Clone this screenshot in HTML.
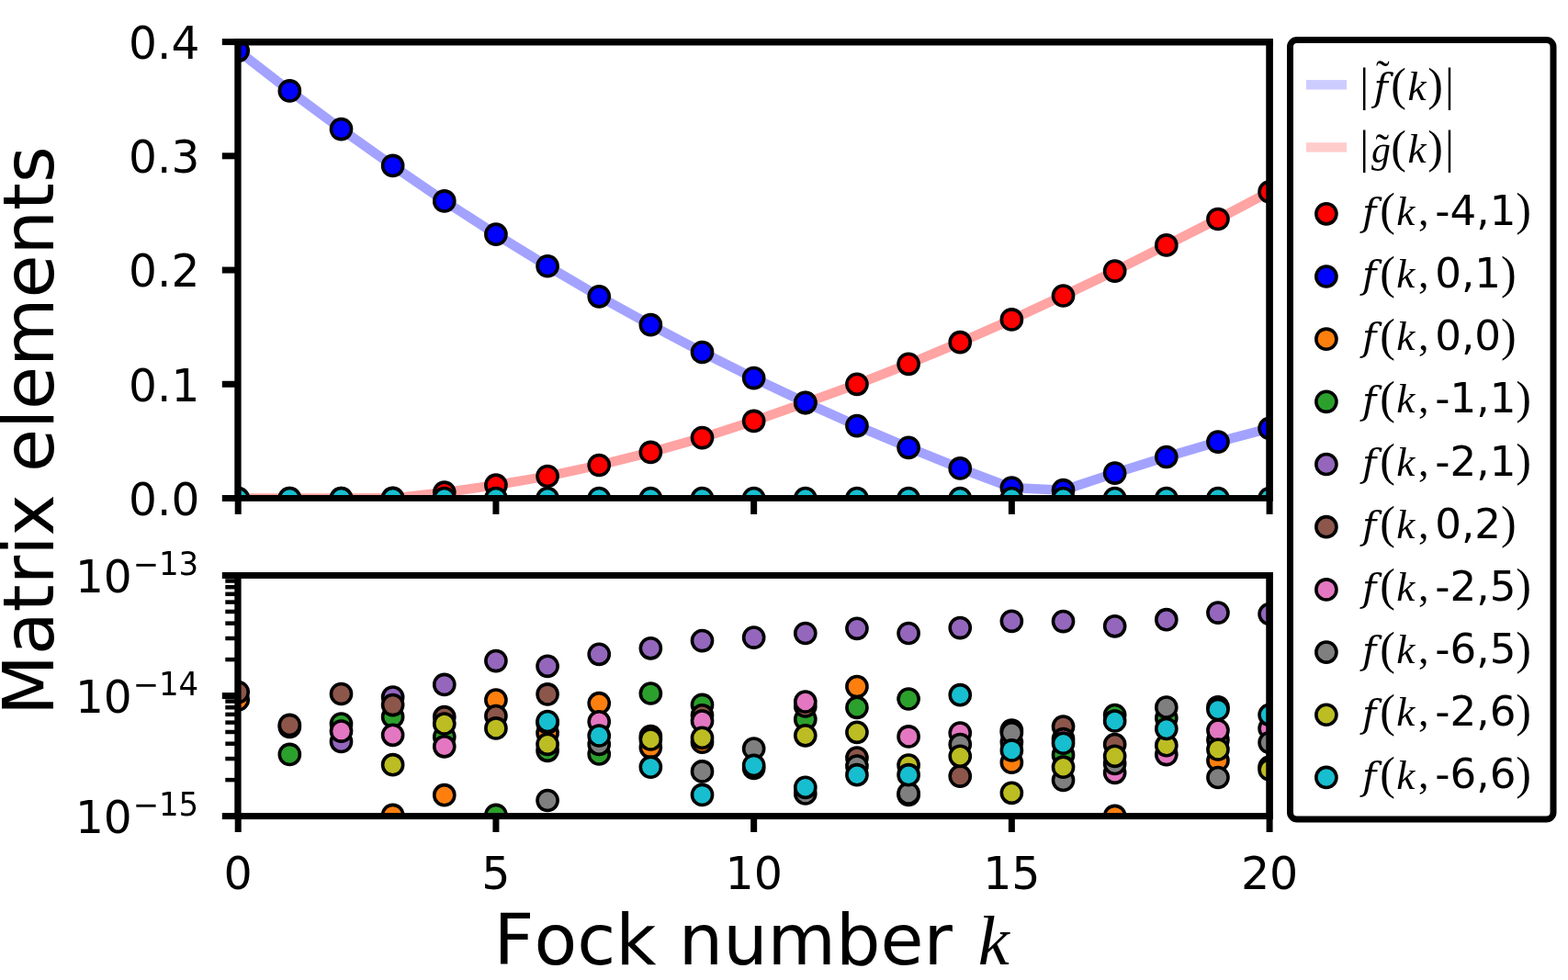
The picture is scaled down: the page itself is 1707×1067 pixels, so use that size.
<!DOCTYPE html>
<html lang="en"><head><meta charset="utf-8"><title>Matrix elements vs Fock number k</title>
<style>html,body{margin:0;padding:0;background:#fff;overflow:hidden}svg{display:block}text{font-kerning:none;font-variant-ligatures:none}.mk circle{stroke:#000;stroke-width:3.6}</style></head><body>
<svg width="1707" height="1067" viewBox="0 0 1707 1067" font-family="'DejaVu Sans', 'Liberation Sans', sans-serif" fill="#000">
<rect width="1707" height="1067" fill="#fff"/>
<defs>
<clipPath id="ct"><rect x="259.2" y="45.6" width="1122.9" height="496.9"/></clipPath>
<clipPath id="cb"><rect x="259.2" y="626.5" width="1122.9" height="262.1"/></clipPath>
</defs>
<g clip-path="url(#ct)">
<polyline points="259.2,55.3 315.34,98.9 371.49,140.6 427.63,180.4 483.78,218.9 539.92,255.2 596.07,289.75 652.21,322.8 708.36,353.7 764.5,383.5 820.65,411.6 876.79,438.3 932.94,463.6 989.09,487.3 1045.23,509.9 1101.37,531 1157.52,533.7 1213.66,515.1 1269.81,497.5 1325.95,481.1 1382.1,466.4" fill="none" stroke="#a3a3ff" stroke-width="10.4" stroke-linejoin="round" stroke-linecap="butt"/>
<polyline points="259.2,542.5 315.34,542.5 371.49,542.5 427.63,542.3 483.78,536.2 539.92,528.2 596.07,518.5 652.21,506.5 708.36,492.4 764.5,476.6 820.65,458.4 876.79,438.7 932.94,418.3 989.09,396.3 1045.23,372.7 1101.37,347.9 1157.52,322 1213.66,295.1 1269.81,266.9 1325.95,238.5 1382.1,208.9" fill="none" stroke="#ffa3a3" stroke-width="10.4" stroke-linejoin="round" stroke-linecap="butt"/>
<g class="mk">
<circle cx="259.2" cy="542.5" r="11.05" fill="#ff0000"/>
<circle cx="315.34" cy="542.5" r="11.05" fill="#ff0000"/>
<circle cx="371.49" cy="542.5" r="11.05" fill="#ff0000"/>
<circle cx="427.63" cy="542.3" r="11.05" fill="#ff0000"/>
<circle cx="483.78" cy="536.2" r="11.05" fill="#ff0000"/>
<circle cx="539.92" cy="528.2" r="11.05" fill="#ff0000"/>
<circle cx="596.07" cy="518.5" r="11.05" fill="#ff0000"/>
<circle cx="652.21" cy="506.5" r="11.05" fill="#ff0000"/>
<circle cx="708.36" cy="492.4" r="11.05" fill="#ff0000"/>
<circle cx="764.5" cy="476.6" r="11.05" fill="#ff0000"/>
<circle cx="820.65" cy="458.4" r="11.05" fill="#ff0000"/>
<circle cx="876.79" cy="438.7" r="11.05" fill="#ff0000"/>
<circle cx="932.94" cy="418.3" r="11.05" fill="#ff0000"/>
<circle cx="989.09" cy="396.3" r="11.05" fill="#ff0000"/>
<circle cx="1045.23" cy="372.7" r="11.05" fill="#ff0000"/>
<circle cx="1101.37" cy="347.9" r="11.05" fill="#ff0000"/>
<circle cx="1157.52" cy="322" r="11.05" fill="#ff0000"/>
<circle cx="1213.66" cy="295.1" r="11.05" fill="#ff0000"/>
<circle cx="1269.81" cy="266.9" r="11.05" fill="#ff0000"/>
<circle cx="1325.95" cy="238.5" r="11.05" fill="#ff0000"/>
<circle cx="1382.1" cy="208.9" r="11.05" fill="#ff0000"/>
<circle cx="259.2" cy="55.3" r="11.05" fill="#0000ff"/>
<circle cx="315.34" cy="98.9" r="11.05" fill="#0000ff"/>
<circle cx="371.49" cy="140.6" r="11.05" fill="#0000ff"/>
<circle cx="427.63" cy="180.4" r="11.05" fill="#0000ff"/>
<circle cx="483.78" cy="218.9" r="11.05" fill="#0000ff"/>
<circle cx="539.92" cy="255.2" r="11.05" fill="#0000ff"/>
<circle cx="596.07" cy="289.75" r="11.05" fill="#0000ff"/>
<circle cx="652.21" cy="322.8" r="11.05" fill="#0000ff"/>
<circle cx="708.36" cy="353.7" r="11.05" fill="#0000ff"/>
<circle cx="764.5" cy="383.5" r="11.05" fill="#0000ff"/>
<circle cx="820.65" cy="411.6" r="11.05" fill="#0000ff"/>
<circle cx="876.79" cy="438.3" r="11.05" fill="#0000ff"/>
<circle cx="932.94" cy="463.6" r="11.05" fill="#0000ff"/>
<circle cx="989.09" cy="487.3" r="11.05" fill="#0000ff"/>
<circle cx="1045.23" cy="509.9" r="11.05" fill="#0000ff"/>
<circle cx="1101.37" cy="531" r="11.05" fill="#0000ff"/>
<circle cx="1157.52" cy="533.7" r="11.05" fill="#0000ff"/>
<circle cx="1213.66" cy="515.1" r="11.05" fill="#0000ff"/>
<circle cx="1269.81" cy="497.5" r="11.05" fill="#0000ff"/>
<circle cx="1325.95" cy="481.1" r="11.05" fill="#0000ff"/>
<circle cx="1382.1" cy="466.4" r="11.05" fill="#0000ff"/>
<circle cx="259.2" cy="542.5" r="11.05" fill="#17becf"/>
<circle cx="315.34" cy="542.5" r="11.05" fill="#17becf"/>
<circle cx="371.49" cy="542.5" r="11.05" fill="#17becf"/>
<circle cx="427.63" cy="542.5" r="11.05" fill="#17becf"/>
<circle cx="483.78" cy="542.5" r="11.05" fill="#17becf"/>
<circle cx="539.92" cy="542.5" r="11.05" fill="#17becf"/>
<circle cx="596.07" cy="542.5" r="11.05" fill="#17becf"/>
<circle cx="652.21" cy="542.5" r="11.05" fill="#17becf"/>
<circle cx="708.36" cy="542.5" r="11.05" fill="#17becf"/>
<circle cx="764.5" cy="542.5" r="11.05" fill="#17becf"/>
<circle cx="820.65" cy="542.5" r="11.05" fill="#17becf"/>
<circle cx="876.79" cy="542.5" r="11.05" fill="#17becf"/>
<circle cx="932.94" cy="542.5" r="11.05" fill="#17becf"/>
<circle cx="989.09" cy="542.5" r="11.05" fill="#17becf"/>
<circle cx="1045.23" cy="542.5" r="11.05" fill="#17becf"/>
<circle cx="1101.37" cy="542.5" r="11.05" fill="#17becf"/>
<circle cx="1157.52" cy="542.5" r="11.05" fill="#17becf"/>
<circle cx="1213.66" cy="542.5" r="11.05" fill="#17becf"/>
<circle cx="1269.81" cy="542.5" r="11.05" fill="#17becf"/>
<circle cx="1325.95" cy="542.5" r="11.05" fill="#17becf"/>
<circle cx="1382.1" cy="542.5" r="11.05" fill="#17becf"/>
</g></g>
<g clip-path="url(#cb)"><g class="mk">
<circle cx="259.2" cy="761.9" r="11.05" fill="#ff7f0e"/>
<circle cx="315.34" cy="791.5" r="11.05" fill="#ff7f0e"/>
<circle cx="427.63" cy="887.4" r="11.05" fill="#ff7f0e"/>
<circle cx="483.78" cy="865.7" r="11.05" fill="#ff7f0e"/>
<circle cx="539.92" cy="762" r="11.05" fill="#ff7f0e"/>
<circle cx="596.07" cy="798" r="11.05" fill="#ff7f0e"/>
<circle cx="652.21" cy="765.7" r="11.05" fill="#ff7f0e"/>
<circle cx="708.36" cy="813.8" r="11.05" fill="#ff7f0e"/>
<circle cx="764.5" cy="808.2" r="11.05" fill="#ff7f0e"/>
<circle cx="932.94" cy="747.6" r="11.05" fill="#ff7f0e"/>
<circle cx="1101.37" cy="830.2" r="11.05" fill="#ff7f0e"/>
<circle cx="1213.66" cy="888.4" r="11.05" fill="#ff7f0e"/>
<circle cx="1325.95" cy="828" r="11.05" fill="#ff7f0e"/>
<circle cx="315.34" cy="821.4" r="11.05" fill="#2ca02c"/>
<circle cx="371.49" cy="788.1" r="11.05" fill="#2ca02c"/>
<circle cx="427.63" cy="780.5" r="11.05" fill="#2ca02c"/>
<circle cx="483.78" cy="802.3" r="11.05" fill="#2ca02c"/>
<circle cx="539.92" cy="887.4" r="11.05" fill="#2ca02c"/>
<circle cx="596.07" cy="817.3" r="11.05" fill="#2ca02c"/>
<circle cx="652.21" cy="821" r="11.05" fill="#2ca02c"/>
<circle cx="708.36" cy="755" r="11.05" fill="#2ca02c"/>
<circle cx="764.5" cy="767.4" r="11.05" fill="#2ca02c"/>
<circle cx="876.79" cy="783.2" r="11.05" fill="#2ca02c"/>
<circle cx="932.94" cy="770.3" r="11.05" fill="#2ca02c"/>
<circle cx="989.09" cy="761" r="11.05" fill="#2ca02c"/>
<circle cx="1101.37" cy="795" r="11.05" fill="#2ca02c"/>
<circle cx="1157.52" cy="821.9" r="11.05" fill="#2ca02c"/>
<circle cx="1213.66" cy="778.5" r="11.05" fill="#2ca02c"/>
<circle cx="1269.81" cy="781.8" r="11.05" fill="#2ca02c"/>
<circle cx="1325.95" cy="769.8" r="11.05" fill="#2ca02c"/>
<circle cx="1382.1" cy="835" r="11.05" fill="#2ca02c"/>
<circle cx="371.49" cy="807.4" r="11.05" fill="#9467bd"/>
<circle cx="427.63" cy="759" r="11.05" fill="#9467bd"/>
<circle cx="483.78" cy="745.4" r="11.05" fill="#9467bd"/>
<circle cx="539.92" cy="719.6" r="11.05" fill="#9467bd"/>
<circle cx="596.07" cy="725.3" r="11.05" fill="#9467bd"/>
<circle cx="652.21" cy="712.3" r="11.05" fill="#9467bd"/>
<circle cx="708.36" cy="705.8" r="11.05" fill="#9467bd"/>
<circle cx="764.5" cy="697.6" r="11.05" fill="#9467bd"/>
<circle cx="820.65" cy="694.1" r="11.05" fill="#9467bd"/>
<circle cx="876.79" cy="689.5" r="11.05" fill="#9467bd"/>
<circle cx="932.94" cy="684.3" r="11.05" fill="#9467bd"/>
<circle cx="989.09" cy="689.5" r="11.05" fill="#9467bd"/>
<circle cx="1045.23" cy="683.6" r="11.05" fill="#9467bd"/>
<circle cx="1101.37" cy="676.3" r="11.05" fill="#9467bd"/>
<circle cx="1157.52" cy="676.6" r="11.05" fill="#9467bd"/>
<circle cx="1213.66" cy="681.8" r="11.05" fill="#9467bd"/>
<circle cx="1269.81" cy="674.7" r="11.05" fill="#9467bd"/>
<circle cx="1325.95" cy="667.1" r="11.05" fill="#9467bd"/>
<circle cx="1382.1" cy="668.5" r="11.05" fill="#9467bd"/>
<circle cx="259.2" cy="753.6" r="11.05" fill="#8c564b"/>
<circle cx="315.34" cy="789.4" r="11.05" fill="#8c564b"/>
<circle cx="371.49" cy="755.5" r="11.05" fill="#8c564b"/>
<circle cx="427.63" cy="767.6" r="11.05" fill="#8c564b"/>
<circle cx="483.78" cy="780.7" r="11.05" fill="#8c564b"/>
<circle cx="539.92" cy="779.6" r="11.05" fill="#8c564b"/>
<circle cx="596.07" cy="755.9" r="11.05" fill="#8c564b"/>
<circle cx="708.36" cy="801.6" r="11.05" fill="#8c564b"/>
<circle cx="764.5" cy="778.8" r="11.05" fill="#8c564b"/>
<circle cx="820.65" cy="836.5" r="11.05" fill="#8c564b"/>
<circle cx="876.79" cy="769" r="11.05" fill="#8c564b"/>
<circle cx="932.94" cy="825.1" r="11.05" fill="#8c564b"/>
<circle cx="989.09" cy="865.5" r="11.05" fill="#8c564b"/>
<circle cx="1045.23" cy="845.1" r="11.05" fill="#8c564b"/>
<circle cx="1157.52" cy="791.1" r="11.05" fill="#8c564b"/>
<circle cx="1213.66" cy="810.5" r="11.05" fill="#8c564b"/>
<circle cx="1325.95" cy="805.7" r="11.05" fill="#8c564b"/>
<circle cx="371.49" cy="796.1" r="11.05" fill="#e377c2"/>
<circle cx="427.63" cy="800.3" r="11.05" fill="#e377c2"/>
<circle cx="483.78" cy="812.8" r="11.05" fill="#e377c2"/>
<circle cx="596.07" cy="787" r="11.05" fill="#e377c2"/>
<circle cx="652.21" cy="785.8" r="11.05" fill="#e377c2"/>
<circle cx="764.5" cy="785" r="11.05" fill="#e377c2"/>
<circle cx="876.79" cy="764" r="11.05" fill="#e377c2"/>
<circle cx="989.09" cy="801.9" r="11.05" fill="#e377c2"/>
<circle cx="1045.23" cy="798.1" r="11.05" fill="#e377c2"/>
<circle cx="1101.37" cy="808" r="11.05" fill="#e377c2"/>
<circle cx="1157.52" cy="804.7" r="11.05" fill="#e377c2"/>
<circle cx="1213.66" cy="841.3" r="11.05" fill="#e377c2"/>
<circle cx="1269.81" cy="821.6" r="11.05" fill="#e377c2"/>
<circle cx="1325.95" cy="795.1" r="11.05" fill="#e377c2"/>
<circle cx="1382.1" cy="793" r="11.05" fill="#e377c2"/>
<circle cx="596.07" cy="871.5" r="11.05" fill="#7f7f7f"/>
<circle cx="652.21" cy="810.3" r="11.05" fill="#7f7f7f"/>
<circle cx="764.5" cy="839.9" r="11.05" fill="#7f7f7f"/>
<circle cx="820.65" cy="815" r="11.05" fill="#7f7f7f"/>
<circle cx="876.79" cy="863.9" r="11.05" fill="#7f7f7f"/>
<circle cx="932.94" cy="834" r="11.05" fill="#7f7f7f"/>
<circle cx="989.09" cy="863.9" r="11.05" fill="#7f7f7f"/>
<circle cx="1045.23" cy="810.5" r="11.05" fill="#7f7f7f"/>
<circle cx="1101.37" cy="797.7" r="11.05" fill="#7f7f7f"/>
<circle cx="1157.52" cy="849.5" r="11.05" fill="#7f7f7f"/>
<circle cx="1213.66" cy="831.4" r="11.05" fill="#7f7f7f"/>
<circle cx="1269.81" cy="770" r="11.05" fill="#7f7f7f"/>
<circle cx="1325.95" cy="846.5" r="11.05" fill="#7f7f7f"/>
<circle cx="1382.1" cy="808.5" r="11.05" fill="#7f7f7f"/>
<circle cx="427.63" cy="832.7" r="11.05" fill="#bcbd22"/>
<circle cx="483.78" cy="788" r="11.05" fill="#bcbd22"/>
<circle cx="539.92" cy="792.9" r="11.05" fill="#bcbd22"/>
<circle cx="596.07" cy="810.3" r="11.05" fill="#bcbd22"/>
<circle cx="708.36" cy="805" r="11.05" fill="#bcbd22"/>
<circle cx="764.5" cy="803.3" r="11.05" fill="#bcbd22"/>
<circle cx="876.79" cy="800.8" r="11.05" fill="#bcbd22"/>
<circle cx="932.94" cy="797.3" r="11.05" fill="#bcbd22"/>
<circle cx="989.09" cy="833" r="11.05" fill="#bcbd22"/>
<circle cx="1045.23" cy="823.3" r="11.05" fill="#bcbd22"/>
<circle cx="1101.37" cy="863.3" r="11.05" fill="#bcbd22"/>
<circle cx="1157.52" cy="835.2" r="11.05" fill="#bcbd22"/>
<circle cx="1213.66" cy="823.3" r="11.05" fill="#bcbd22"/>
<circle cx="1269.81" cy="811.7" r="11.05" fill="#bcbd22"/>
<circle cx="1325.95" cy="816" r="11.05" fill="#bcbd22"/>
<circle cx="1382.1" cy="838" r="11.05" fill="#bcbd22"/>
<circle cx="596.07" cy="785.5" r="11.05" fill="#17becf"/>
<circle cx="652.21" cy="801" r="11.05" fill="#17becf"/>
<circle cx="708.36" cy="835.2" r="11.05" fill="#17becf"/>
<circle cx="764.5" cy="865.4" r="11.05" fill="#17becf"/>
<circle cx="820.65" cy="833.4" r="11.05" fill="#17becf"/>
<circle cx="876.79" cy="857.3" r="11.05" fill="#17becf"/>
<circle cx="932.94" cy="843.7" r="11.05" fill="#17becf"/>
<circle cx="989.09" cy="843.7" r="11.05" fill="#17becf"/>
<circle cx="1045.23" cy="756.7" r="11.05" fill="#17becf"/>
<circle cx="1101.37" cy="816.9" r="11.05" fill="#17becf"/>
<circle cx="1157.52" cy="809.2" r="11.05" fill="#17becf"/>
<circle cx="1213.66" cy="785" r="11.05" fill="#17becf"/>
<circle cx="1269.81" cy="793.5" r="11.05" fill="#17becf"/>
<circle cx="1325.95" cy="772.5" r="11.05" fill="#17becf"/>
<circle cx="1382.1" cy="778.3" r="11.05" fill="#17becf"/>
</g></g>
<g stroke="#000" stroke-width="7.0" fill="none">
<line x1="259.2" y1="542.5" x2="259.2" y2="559.9"/>
<line x1="539.92" y1="542.5" x2="539.92" y2="559.9"/>
<line x1="820.65" y1="542.5" x2="820.65" y2="559.9"/>
<line x1="1101.37" y1="542.5" x2="1101.37" y2="559.9"/>
<line x1="1382.1" y1="542.5" x2="1382.1" y2="559.9"/>
<line x1="259.2" y1="888.6" x2="259.2" y2="906"/>
<line x1="539.92" y1="888.6" x2="539.92" y2="906"/>
<line x1="820.65" y1="888.6" x2="820.65" y2="906"/>
<line x1="1101.37" y1="888.6" x2="1101.37" y2="906"/>
<line x1="1382.1" y1="888.6" x2="1382.1" y2="906"/>
<line x1="241.8" y1="542.5" x2="259.2" y2="542.5"/>
<line x1="241.8" y1="418.27" x2="259.2" y2="418.27"/>
<line x1="241.8" y1="294.05" x2="259.2" y2="294.05"/>
<line x1="241.8" y1="169.83" x2="259.2" y2="169.83"/>
<line x1="241.8" y1="45.6" x2="259.2" y2="45.6"/>
<line x1="241.8" y1="626.5" x2="259.2" y2="626.5"/>
<line x1="241.8" y1="757.55" x2="259.2" y2="757.55"/>
<line x1="241.8" y1="888.6" x2="259.2" y2="888.6"/>
</g>
<g stroke="#000" stroke-width="4.5" fill="none">
<line x1="245.3" y1="718.1" x2="259.2" y2="718.1"/>
<line x1="245.3" y1="695.02" x2="259.2" y2="695.02"/>
<line x1="245.3" y1="678.65" x2="259.2" y2="678.65"/>
<line x1="245.3" y1="665.95" x2="259.2" y2="665.95"/>
<line x1="245.3" y1="655.57" x2="259.2" y2="655.57"/>
<line x1="245.3" y1="646.8" x2="259.2" y2="646.8"/>
<line x1="245.3" y1="639.2" x2="259.2" y2="639.2"/>
<line x1="245.3" y1="632.5" x2="259.2" y2="632.5"/>
<line x1="245.3" y1="849.15" x2="259.2" y2="849.15"/>
<line x1="245.3" y1="826.07" x2="259.2" y2="826.07"/>
<line x1="245.3" y1="809.7" x2="259.2" y2="809.7"/>
<line x1="245.3" y1="797" x2="259.2" y2="797"/>
<line x1="245.3" y1="786.62" x2="259.2" y2="786.62"/>
<line x1="245.3" y1="777.85" x2="259.2" y2="777.85"/>
<line x1="245.3" y1="770.25" x2="259.2" y2="770.25"/>
<line x1="245.3" y1="763.55" x2="259.2" y2="763.55"/>
</g>
<rect x="255.3" y="42" width="1130.6" height="7.5" fill="#000"/>
<rect x="255.3" y="539" width="1130.6" height="6.9" fill="#000"/>
<rect x="255.3" y="42" width="7.3" height="503.9" fill="#000"/>
<rect x="1378.25" y="42" width="7.65" height="503.9" fill="#000"/>
<rect x="255.3" y="623" width="1130.6" height="7" fill="#000"/>
<rect x="255.3" y="885.1" width="1130.6" height="7" fill="#000"/>
<rect x="255.3" y="623" width="7.3" height="269.1" fill="#000"/>
<rect x="1378.25" y="623" width="7.65" height="269.1" fill="#000"/>
<text transform="matrix(1.0 0 0 1.015 217.3 560.8)" font-size="48.6px" text-anchor="end">0.0</text>
<text transform="matrix(1.0 0 0 1.015 217.3 436.57)" font-size="48.6px" text-anchor="end">0.1</text>
<text transform="matrix(1.0 0 0 1.015 217.3 312.35)" font-size="48.6px" text-anchor="end">0.2</text>
<text transform="matrix(1.0 0 0 1.015 217.3 188.13)" font-size="48.6px" text-anchor="end">0.3</text>
<text transform="matrix(1.0 0 0 1.015 217.3 63.9)" font-size="48.6px" text-anchor="end">0.4</text>
<text transform="matrix(1 0 0 1.022 81.9 644.6)" font-size="48.6px">10<tspan font-size="34.0px" dx="0.7" dy="-18.49">−13</tspan></text>
<text transform="matrix(1 0 0 1.022 81.9 775.65)" font-size="48.6px">10<tspan font-size="34.0px" dx="0.7" dy="-18.49">−14</tspan></text>
<text transform="matrix(1 0 0 1.022 81.9 906.7)" font-size="48.6px">10<tspan font-size="34.0px" dx="0.7" dy="-18.49">−15</tspan></text>
<text transform="matrix(1.01 0 0 1.022 259.2 967.8)" font-size="48.6px" text-anchor="middle">0</text>
<text transform="matrix(1.01 0 0 1.022 539.92 967.8)" font-size="48.6px" text-anchor="middle">5</text>
<text transform="matrix(1.01 0 0 1.022 820.65 967.8)" font-size="48.6px" text-anchor="middle">10</text>
<text transform="matrix(1.01 0 0 1.022 1101.37 967.8)" font-size="48.6px" text-anchor="middle">15</text>
<text transform="matrix(1.01 0 0 1.022 1382.1 967.8)" font-size="48.6px" text-anchor="middle">20</text>
<text font-size="76.4px"><tspan x="537.6" y="1049.8">Fock number </tspan><tspan x="1064.84" y="1050.20" font-family="'Liberation Serif', serif" font-style="italic" font-size="76.55px">k</tspan></text>
<text transform="translate(58.1 469.1) rotate(-90)" font-size="76.4px" text-anchor="middle">Matrix elements</text>
<rect x="1404.5" y="43.6" width="286.5" height="848.4" rx="7.5" ry="7.5" fill="#fff" stroke="#000" stroke-width="7.0"/>
<rect x="1421.9" y="87.1" width="44.1" height="10.4" fill="#ccccff"/>
<rect x="1421.9" y="155.2" width="44.1" height="10.4" fill="#ffcccc"/>
<text font-size="45.14px"><tspan x="1480.13" y="109.12" font-family="'Liberation Serif', serif" font-size="49.67px">|</tspan><tspan x="1495.45" y="108.78" font-family="'DejaVu Serif', serif" font-style="italic" font-size="41.55px">f</tspan><tspan x="1498.09" y="95.84" font-family="'Liberation Serif', serif" font-size="43.92px">˜</tspan><tspan x="1514.33" y="109.19" font-family="'Liberation Serif', serif" font-size="49.94px">(</tspan><tspan x="1532.60" y="108.70" font-family="'Liberation Serif', serif" font-style="italic" font-size="45.32px">k</tspan><tspan x="1554.20" y="109.19" font-family="'Liberation Serif', serif" font-size="49.94px">)</tspan><tspan x="1572.93" y="109.12" font-family="'Liberation Serif', serif" font-size="49.67px">|</tspan></text>
<text font-size="45.14px"><tspan x="1480.13" y="177.32" font-family="'Liberation Serif', serif" font-size="49.67px">|</tspan><tspan x="1492.99" y="176.73" font-family="'Liberation Serif', serif" font-style="italic" font-size="41.76px">g</tspan><tspan x="1497.44" y="176.34" font-family="'Liberation Serif', serif" font-size="43.92px">˜</tspan><tspan x="1514.33" y="177.39" font-family="'Liberation Serif', serif" font-size="49.94px">(</tspan><tspan x="1532.60" y="176.90" font-family="'Liberation Serif', serif" font-style="italic" font-size="45.32px">k</tspan><tspan x="1554.20" y="177.39" font-family="'Liberation Serif', serif" font-size="49.94px">)</tspan><tspan x="1572.93" y="177.32" font-family="'Liberation Serif', serif" font-size="49.67px">|</tspan></text>
<g class="mk">
<circle cx="1443.9" cy="232.8" r="11.05" fill="#ff0000"/>
<circle cx="1443.9" cy="300.98" r="11.05" fill="#0000ff"/>
<circle cx="1443.9" cy="369.16" r="11.05" fill="#ff7f0e"/>
<circle cx="1443.9" cy="437.34" r="11.05" fill="#2ca02c"/>
<circle cx="1443.9" cy="505.52" r="11.05" fill="#9467bd"/>
<circle cx="1443.9" cy="573.7" r="11.05" fill="#8c564b"/>
<circle cx="1443.9" cy="641.88" r="11.05" fill="#e377c2"/>
<circle cx="1443.9" cy="710.06" r="11.05" fill="#7f7f7f"/>
<circle cx="1443.9" cy="778.24" r="11.05" fill="#bcbd22"/>
<circle cx="1443.9" cy="846.42" r="11.05" fill="#17becf"/>
</g>
<text font-size="45.14px"><tspan x="1483.00" y="245.08" font-family="'DejaVu Serif', serif" font-style="italic" font-size="41.55px">f</tspan><tspan x="1502.18" y="245.39" font-family="'Liberation Serif', serif" font-size="49.94px">(</tspan><tspan x="1520.24" y="244.90" font-family="'Liberation Serif', serif" font-style="italic" font-size="45.18px">k</tspan><tspan x="1543.88" y="244.82" font-family="'Liberation Serif', serif" font-size="46.00px">, </tspan><tspan x="1562.3" y="244.8">-4,1</tspan><tspan x="1650.30" y="245.39" font-family="'Liberation Serif', serif" font-size="49.94px">)</tspan></text>
<text font-size="45.14px"><tspan x="1483.00" y="313.26" font-family="'DejaVu Serif', serif" font-style="italic" font-size="41.55px">f</tspan><tspan x="1502.18" y="313.57" font-family="'Liberation Serif', serif" font-size="49.94px">(</tspan><tspan x="1520.24" y="313.08" font-family="'Liberation Serif', serif" font-style="italic" font-size="45.18px">k</tspan><tspan x="1543.88" y="313.00" font-family="'Liberation Serif', serif" font-size="46.00px">, </tspan><tspan x="1562.3" y="312.98">0,1</tspan><tspan x="1634.00" y="313.57" font-family="'Liberation Serif', serif" font-size="49.94px">)</tspan></text>
<text font-size="45.14px"><tspan x="1483.00" y="381.44" font-family="'DejaVu Serif', serif" font-style="italic" font-size="41.55px">f</tspan><tspan x="1502.18" y="381.75" font-family="'Liberation Serif', serif" font-size="49.94px">(</tspan><tspan x="1520.24" y="381.26" font-family="'Liberation Serif', serif" font-style="italic" font-size="45.18px">k</tspan><tspan x="1543.88" y="381.18" font-family="'Liberation Serif', serif" font-size="46.00px">, </tspan><tspan x="1562.3" y="381.16">0,0</tspan><tspan x="1634.00" y="381.75" font-family="'Liberation Serif', serif" font-size="49.94px">)</tspan></text>
<text font-size="45.14px"><tspan x="1483.00" y="449.62" font-family="'DejaVu Serif', serif" font-style="italic" font-size="41.55px">f</tspan><tspan x="1502.18" y="449.93" font-family="'Liberation Serif', serif" font-size="49.94px">(</tspan><tspan x="1520.24" y="449.44" font-family="'Liberation Serif', serif" font-style="italic" font-size="45.18px">k</tspan><tspan x="1543.88" y="449.36" font-family="'Liberation Serif', serif" font-size="46.00px">, </tspan><tspan x="1562.3" y="449.34">-1,1</tspan><tspan x="1650.30" y="449.93" font-family="'Liberation Serif', serif" font-size="49.94px">)</tspan></text>
<text font-size="45.14px"><tspan x="1483.00" y="517.80" font-family="'DejaVu Serif', serif" font-style="italic" font-size="41.55px">f</tspan><tspan x="1502.18" y="518.11" font-family="'Liberation Serif', serif" font-size="49.94px">(</tspan><tspan x="1520.24" y="517.62" font-family="'Liberation Serif', serif" font-style="italic" font-size="45.18px">k</tspan><tspan x="1543.88" y="517.53" font-family="'Liberation Serif', serif" font-size="46.00px">, </tspan><tspan x="1562.3" y="517.52">-2,1</tspan><tspan x="1650.30" y="518.11" font-family="'Liberation Serif', serif" font-size="49.94px">)</tspan></text>
<text font-size="45.14px"><tspan x="1483.00" y="585.98" font-family="'DejaVu Serif', serif" font-style="italic" font-size="41.55px">f</tspan><tspan x="1502.18" y="586.29" font-family="'Liberation Serif', serif" font-size="49.94px">(</tspan><tspan x="1520.24" y="585.80" font-family="'Liberation Serif', serif" font-style="italic" font-size="45.18px">k</tspan><tspan x="1543.88" y="585.72" font-family="'Liberation Serif', serif" font-size="46.00px">, </tspan><tspan x="1562.3" y="585.7">0,2</tspan><tspan x="1634.00" y="586.29" font-family="'Liberation Serif', serif" font-size="49.94px">)</tspan></text>
<text font-size="45.14px"><tspan x="1483.00" y="654.16" font-family="'DejaVu Serif', serif" font-style="italic" font-size="41.55px">f</tspan><tspan x="1502.18" y="654.47" font-family="'Liberation Serif', serif" font-size="49.94px">(</tspan><tspan x="1520.24" y="653.98" font-family="'Liberation Serif', serif" font-style="italic" font-size="45.18px">k</tspan><tspan x="1543.88" y="653.90" font-family="'Liberation Serif', serif" font-size="46.00px">, </tspan><tspan x="1562.3" y="653.88">-2,5</tspan><tspan x="1650.30" y="654.47" font-family="'Liberation Serif', serif" font-size="49.94px">)</tspan></text>
<text font-size="45.14px"><tspan x="1483.00" y="722.34" font-family="'DejaVu Serif', serif" font-style="italic" font-size="41.55px">f</tspan><tspan x="1502.18" y="722.65" font-family="'Liberation Serif', serif" font-size="49.94px">(</tspan><tspan x="1520.24" y="722.16" font-family="'Liberation Serif', serif" font-style="italic" font-size="45.18px">k</tspan><tspan x="1543.88" y="722.08" font-family="'Liberation Serif', serif" font-size="46.00px">, </tspan><tspan x="1562.3" y="722.06">-6,5</tspan><tspan x="1650.30" y="722.65" font-family="'Liberation Serif', serif" font-size="49.94px">)</tspan></text>
<text font-size="45.14px"><tspan x="1483.00" y="790.52" font-family="'DejaVu Serif', serif" font-style="italic" font-size="41.55px">f</tspan><tspan x="1502.18" y="790.83" font-family="'Liberation Serif', serif" font-size="49.94px">(</tspan><tspan x="1520.24" y="790.34" font-family="'Liberation Serif', serif" font-style="italic" font-size="45.18px">k</tspan><tspan x="1543.88" y="790.25" font-family="'Liberation Serif', serif" font-size="46.00px">, </tspan><tspan x="1562.3" y="790.24">-2,6</tspan><tspan x="1650.30" y="790.83" font-family="'Liberation Serif', serif" font-size="49.94px">)</tspan></text>
<text font-size="45.14px"><tspan x="1483.00" y="858.70" font-family="'DejaVu Serif', serif" font-style="italic" font-size="41.55px">f</tspan><tspan x="1502.18" y="859.01" font-family="'Liberation Serif', serif" font-size="49.94px">(</tspan><tspan x="1520.24" y="858.52" font-family="'Liberation Serif', serif" font-style="italic" font-size="45.18px">k</tspan><tspan x="1543.88" y="858.44" font-family="'Liberation Serif', serif" font-size="46.00px">, </tspan><tspan x="1562.3" y="858.42">-6,6</tspan><tspan x="1650.30" y="859.01" font-family="'Liberation Serif', serif" font-size="49.94px">)</tspan></text>
</svg></body></html>
